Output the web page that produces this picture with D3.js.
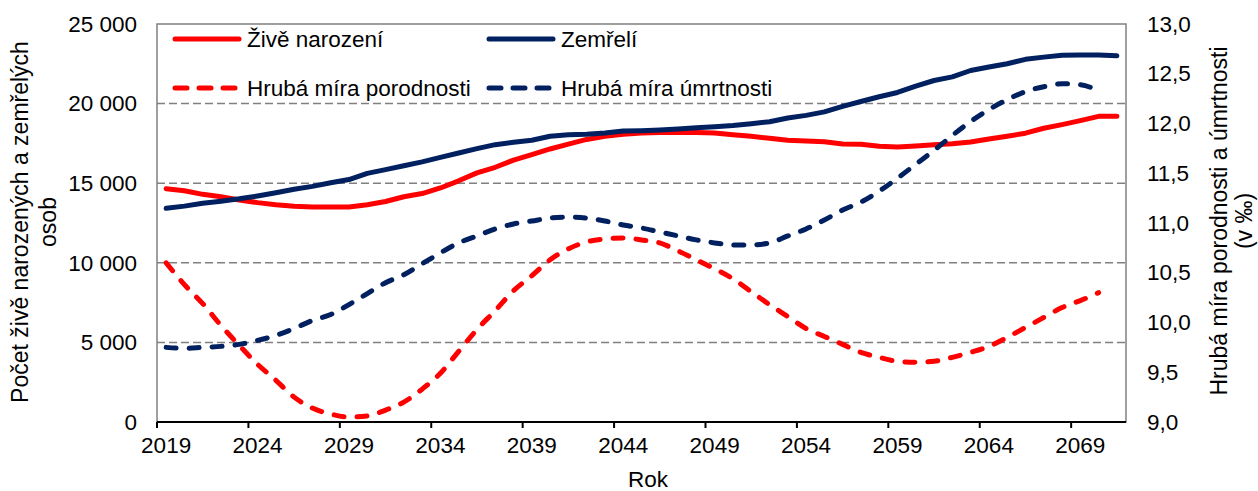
<!DOCTYPE html>
<meta charset="utf-8">
<style>

body {
  margin: 0;
  background: #fff;
  font-family: "Liberation Sans", Arial, sans-serif;
}

.grid line {
  stroke: #808080;
  stroke-width: 1.5;
  stroke-dasharray: 8,4;
}

.series {
  fill: none;
  stroke-width: 5;
  stroke-linecap: round;
  stroke-linejoin: round;
}

text {
  fill: #000;
}

</style>
<body>
<script src="https://d3js.org/d3.v7.min.js"></script>
<script>

// roky (kategorie osy x)
var years = [2019, 2020, 2021, 2022, 2023, 2024, 2025, 2026, 2027, 2028,
             2029, 2030, 2031, 2032, 2033, 2034, 2035, 2036, 2037, 2038,
             2039, 2040, 2041, 2042, 2043, 2044, 2045, 2046, 2047, 2048,
             2049, 2050, 2051, 2052, 2053, 2054, 2055, 2056, 2057, 2058,
             2059, 2060, 2061, 2062, 2063, 2064, 2065, 2066, 2067, 2068,
             2069, 2070, 2071];

var yearLabels = [2019, 2024, 2029, 2034, 2039, 2044, 2049, 2054, 2059, 2064, 2069];

// Živě narození (levá osa)
var births = [14650, 14530, 14300, 14150, 13950, 13780, 13650, 13550, 13500, 13500,
              13500, 13650, 13850, 14150, 14350, 14700, 15150, 15650, 16000, 16450,
              16800, 17150, 17450, 17750, 17950, 18080, 18150, 18180, 18180, 18180,
              18150, 18050, 17950, 17820, 17700, 17650, 17600, 17460, 17450, 17320,
              17280, 17340, 17420, 17480, 17590, 17780, 17950, 18140, 18450, 18680,
              18930, 19200, 19200];

// Zemřelí (levá osa)
var deaths = [13420, 13560, 13740, 13870, 14020, 14200, 14400, 14620, 14800, 15030,
              15230, 15620, 15850, 16100, 16340, 16620, 16900, 17170, 17420, 17570,
              17700, 17950, 18050, 18070, 18150, 18280, 18300, 18340, 18400, 18480,
              18540, 18620, 18740, 18860, 19100, 19260, 19480, 19830, 20130, 20430,
              20700, 21100, 21450, 21680, 22080, 22300, 22500, 22780, 22920, 23040,
              23060, 23060, 23000];

// Hrubá míra porodnosti v ‰ (pravá osa), 2019-2070
var birthRate = [10.60, 10.38, 10.19, 9.97, 9.77, 9.58, 9.42, 9.25, 9.14, 9.08,
                 9.05, 9.06, 9.12, 9.20, 9.33, 9.49, 9.71, 9.93, 10.12, 10.32,
                 10.47, 10.63, 10.74, 10.81, 10.84, 10.85, 10.83, 10.80, 10.72, 10.63,
                 10.54, 10.44, 10.31, 10.18, 10.06, 9.94, 9.86, 9.78, 9.70, 9.65,
                 9.61, 9.60, 9.61, 9.65, 9.70, 9.76, 9.85, 9.95, 10.05, 10.15,
                 10.22, 10.30];

// Hrubá míra úmrtnosti v ‰ (pravá osa), 2019-2070
var deathRate = [9.75, 9.74, 9.75, 9.76, 9.78, 9.82, 9.87, 9.94, 10.02, 10.08,
                 10.18, 10.29, 10.40, 10.48, 10.59, 10.70, 10.80, 10.87, 10.94, 10.99,
                 11.02, 11.05, 11.06, 11.05, 11.02, 10.98, 10.95, 10.91, 10.87, 10.83,
                 10.80, 10.78, 10.78, 10.80, 10.87, 10.94, 11.03, 11.13, 11.21, 11.32,
                 11.45, 11.59, 11.73, 11.88, 12.02, 12.14, 12.24, 12.32, 12.37, 12.40,
                 12.39, 12.33];

var leftTicks = [0, 5000, 10000, 15000, 20000, 25000];
var rightTicks = [9.0, 9.5, 10.0, 10.5, 11.0, 11.5, 12.0, 12.5, 13.0];

var red = "#ff0000",
    navy = "#002060";

var width = 1258,
    height = 491,
    plot = {left: 157, right: 1126, top: 24, bottom: 422};

var svg = d3.select("body").append("svg")
    .attr("width", width)
    .attr("height", height)
    .style("display", "block");

var x = d3.scaleBand()
    .domain(years)
    .range([plot.left, plot.right]);

var y = d3.scaleLinear()
    .domain([0, 25000])
    .range([plot.bottom, plot.top]);

var y2 = d3.scaleLinear()
    .domain([9, 13])
    .range([plot.bottom, plot.top]);

var fmt = function(d) { return d3.format(",")(d).replace(/,/g, " "); };
var fmt2 = function(d) { return d3.format(".1f")(d).replace(".", ","); };

// mřížka
svg.append("g")
    .attr("class", "grid")
  .selectAll("line")
    .data(leftTicks.slice(1, -1))
  .enter().append("line")
    .attr("x1", plot.left)
    .attr("x2", plot.right)
    .attr("y1", function(d) { return y(d); })
    .attr("y2", function(d) { return y(d); });

// rámeček
svg.append("rect")
    .attr("x", plot.left)
    .attr("y", plot.top)
    .attr("width", plot.right - plot.left)
    .attr("height", plot.bottom - plot.top)
    .attr("fill", "none")
    .attr("stroke", "#808080")
    .attr("stroke-width", 1.5);

// levá osa
var yAxis = svg.append("g")
    .attr("transform", "translate(" + plot.left + ",0)")
    .call(d3.axisLeft(y).tickValues(leftTicks).tickFormat(fmt).tickSize(0).tickPadding(20));
yAxis.select(".domain").remove();

// pravá osa
var y2Axis = svg.append("g")
    .attr("transform", "translate(" + plot.right + ",0)")
    .call(d3.axisRight(y2).tickValues(rightTicks).tickFormat(fmt2).tickSize(0).tickPadding(21));
y2Axis.select(".domain").remove();

// osa x
var xAxis = svg.append("g")
    .attr("transform", "translate(0," + plot.bottom + ")")
    .call(d3.axisBottom(x).tickValues(yearLabels).tickSize(0).tickPadding(15));
xAxis.select(".domain").remove();

svg.append("line")
    .attr("x1", plot.left)
    .attr("x2", plot.right)
    .attr("y1", plot.bottom)
    .attr("y2", plot.bottom)
    .attr("stroke", "#000")
    .attr("stroke-width", 2);

svg.append("g").selectAll("line")
    .data(yearLabels)
  .enter().append("line")
    .attr("x1", function(d) { return x(d); })
    .attr("x2", function(d) { return x(d); })
    .attr("y1", plot.bottom)
    .attr("y2", plot.bottom + 6)
    .attr("stroke", "#000")
    .attr("stroke-width", 2);

svg.selectAll(".tick text")
    .style("font-family", "'Liberation Sans', Arial, sans-serif")
    .style("font-size", "22.5px")
    .attr("fill", "#000");

// popisky os
svg.append("text")
    .attr("x", 648)
    .attr("y", 487)
    .attr("text-anchor", "middle")
    .style("font-size", "22.5px")
    .text("Rok");

var leftTitle = svg.append("text")
    .attr("transform", "translate(0,222) rotate(-90)")
    .attr("text-anchor", "middle")
    .style("font-size", "23px");
leftTitle.append("tspan").attr("x", 0).attr("y", 28).text("Počet živě  narozených a zemřelých");
leftTitle.append("tspan").attr("x", 0).attr("y", 56).text("osob");

var rightTitle = svg.append("text")
    .attr("transform", "translate(0,221) rotate(-90)")
    .attr("text-anchor", "middle")
    .style("font-size", "23px");
rightTitle.append("tspan").attr("x", 0).attr("y", 1227).text("Hrubá míra porodnosti a úmrtnosti");
rightTitle.append("tspan").attr("x", 0).attr("y", 1252).text("(v ‰)");

// řady
var cx = function(d, i) { return x(years[i]) + x.bandwidth() / 2; };

var lineLeft = d3.line()
    .x(cx)
    .y(function(d) { return y(d); });

var lineRight = d3.line()
    .x(cx)
    .y(function(d) { return y2(d); })
    .curve(d3.curveMonotoneX);

var series = [
  {name: "Živě narození", values: births, line: lineLeft, color: red, dash: null},
  {name: "Zemřelí", values: deaths, line: lineLeft, color: navy, dash: null},
  {name: "Hrubá míra porodnosti", values: birthRate, line: lineRight, color: red, dash: "10,13"},
  {name: "Hrubá míra úmrtnosti", values: deathRate, line: lineRight, color: navy, dash: "10,13"}
];

svg.selectAll(".series")
    .data(series)
  .enter().append("path")
    .attr("class", "series")
    .attr("d", function(d) { return d.line(d.values); })
    .attr("stroke", function(d) { return d.color; })
    .attr("stroke-dasharray", function(d) { return d.dash; });

// legenda
var legend = svg.selectAll(".legend")
    .data(series)
  .enter().append("g")
    .attr("class", "legend")
    .attr("transform", function(d, i) {
      return "translate(" + (i % 2 ? 489 : 175) + "," + (i < 2 ? 39 : 88) + ")";
    });

legend.append("line")
    .attr("x1", 0)
    .attr("x2", 64)
    .attr("stroke", function(d) { return d.color; })
    .attr("stroke-width", 5)
    .attr("stroke-linecap", "round")
    .attr("stroke-dasharray", function(d) { return d.dash ? "12,12" : null; });

legend.append("text")
    .attr("x", 72)
    .attr("dy", "0.35em")
    .style("font-size", "22.5px")
    .text(function(d) { return d.name; });

</script>
</body>
